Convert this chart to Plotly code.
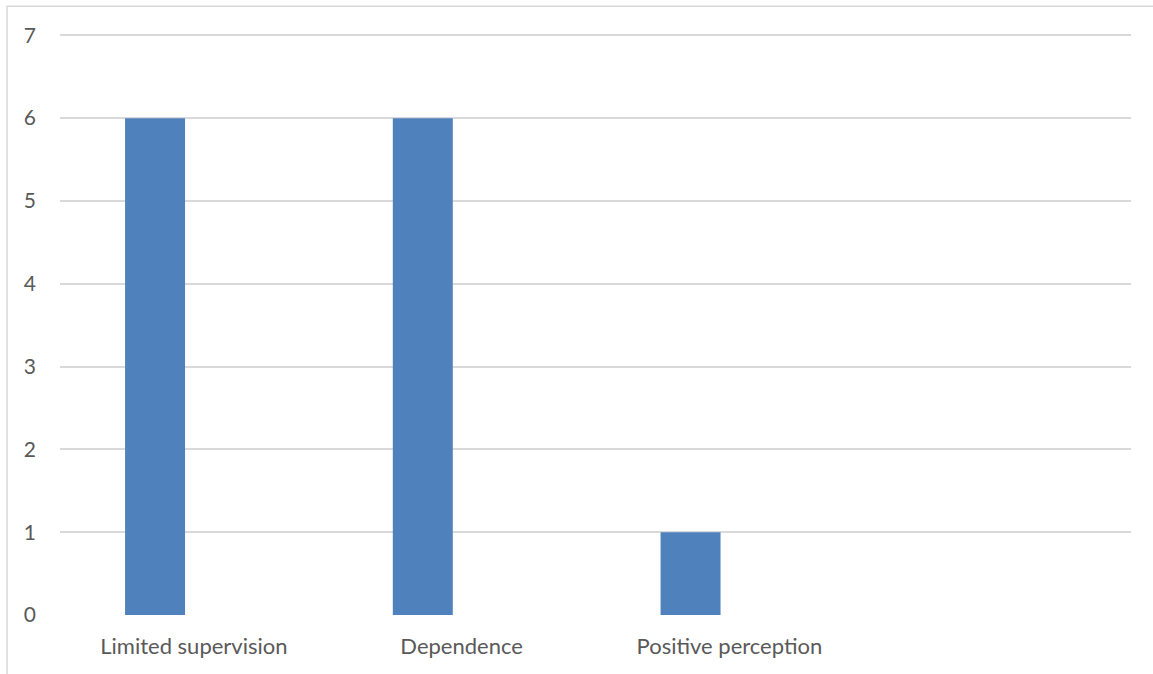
import plotly.graph_objects as go

# Categories along the x axis (the fourth slot is left empty)
categories = ["Limited supervision", "Dependence", "Positive perception", ""]
counts = [6, 6, 1, None]
y_ticks = [0, 1, 2, 3, 4, 5, 6, 7]
y_max = 7.04

positions = list(range(len(categories)))

fig = go.Figure()
fig.add_trace(go.Bar(
    x=positions,
    y=counts,
    width=0.224,
    offset=-0.257,
    marker=dict(color="#4f81bd", line=dict(width=0)),
    showlegend=False,
    hoverinfo="x+y",
))

plot_h = 580 * y_max / 7
top = 615 - plot_h

fig.update_layout(
    width=1153,
    height=674,
    margin=dict(l=60, r=22, t=top, b=59),
    paper_bgcolor="white",
    plot_bgcolor="white",
    font=dict(family="Lato, Open Sans, sans-serif", size=22, color="#595959"),
    xaxis=dict(
        range=[-0.5, len(categories) - 0.5],
        tickmode="array",
        tickvals=positions,
        ticktext=categories,
        showgrid=False,
        zeroline=False,
        showline=False,
        ticks="",
        ticklabelstandoff=16,
        tickfont=dict(size=22, color="#595959"),
        fixedrange=True,
    ),
    yaxis=dict(
        range=[0, y_max],
        tickmode="array",
        tickvals=y_ticks,
        showgrid=True,
        gridcolor="#d9d9d9",
        gridwidth=2,
        zeroline=False,
        showline=False,
        ticks="",
        ticklabelstandoff=23,
        tickfont=dict(size=21, color="#595959"),
        fixedrange=True,
    ),
    shapes=[dict(
        type="rect", xref="paper", yref="paper",
        x0=(7 - 60) / 1071, x1=(1170 - 60) / 1071,
        y0=-(690 - 615) / plot_h, y1=1 + (top - 6) / plot_h,
        line=dict(color="#d9d9d9", width=1.5),
        fillcolor="rgba(0,0,0,0)",
        layer="below",
    )],
)

fig.write_html("out.html")
